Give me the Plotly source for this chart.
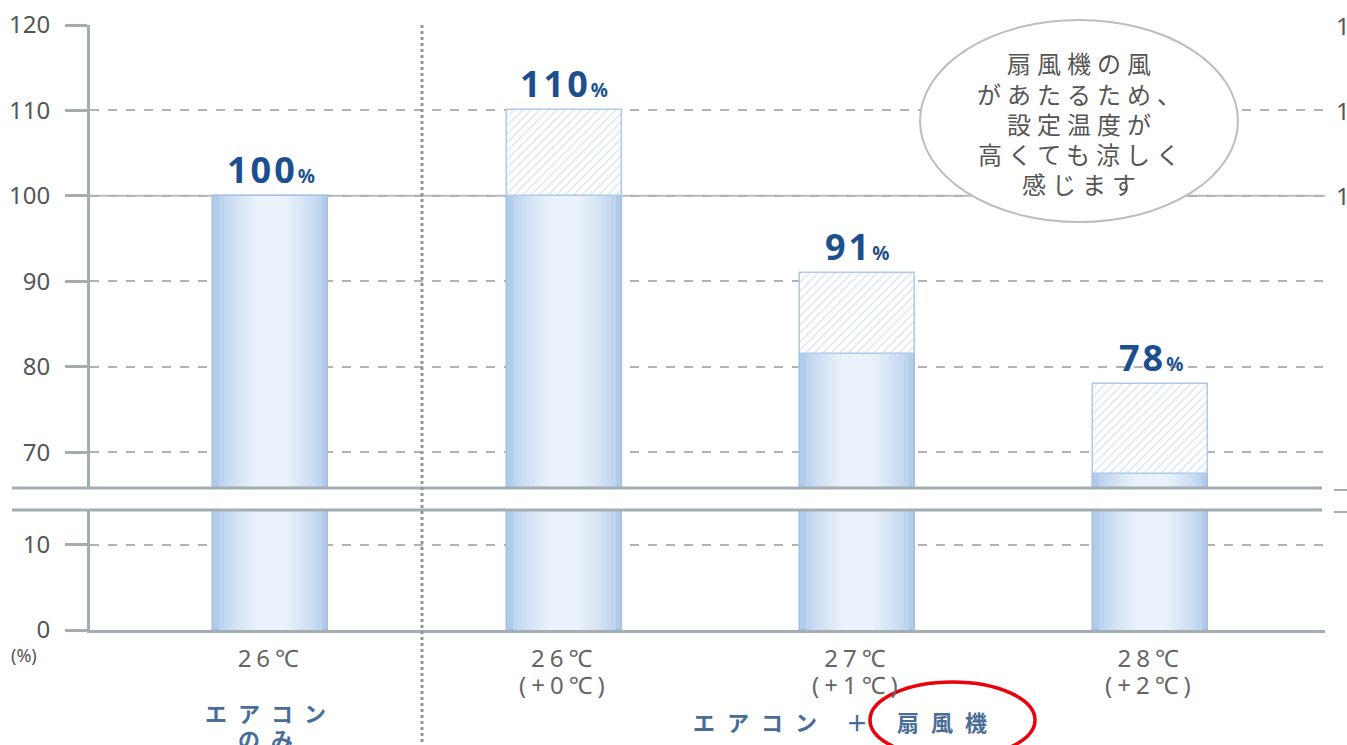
import plotly.graph_objects as go

# ---- data -------------------------------------------------------------
temps = ["26℃", "26℃", "27℃", "28℃"]
offsets = ["", "(+0℃)", "(+1℃)", "(+2℃)"]
solid_share = [100, 100, 81.5, 67.4]   # filled part of each bar (%)
total_share = [100, 110, 91, 78]       # labelled total (%)
upper_ticks = [70, 80, 90, 100, 110, 120]
lower_ticks = [0, 10]
bubble_lines = ["扇風機の風", "があたるため、", "設定温度が", "高くても涼しく", "感じます"]
group_single = ["エアコン", "のみ"]
group_combo = "エアコン ＋ 扇風機"

# ---- layout geometry (pixels) ----------------------------------------
W, H = 1347, 745
ML, MR, MT, MB = 90, 22, 25, 115
PW, PH = W - ML - MR, H - MT - MB
UPPER_RANGE = [65.8, 120]
LOWER_RANGE = [0, 14.1]
BREAK_TOP, BREAK_BOT = 488, 510          # pixel rows of the axis break


def px_x(p):
    return (p - ML) / PW


def px_y(p):
    return (H - MB - p) / PH


def blend(c1, c2, t):
    a = [int(c1[i:i + 2], 16) for i in (1, 3, 5)]
    b = [int(c2[i:i + 2], 16) for i in (1, 3, 5)]
    return "#" + "".join(f"{round(u + (v - u) * t):02x}" for u, v in zip(a, b))


AXIS_COL = "#a3aeb2"
GRID_COL = "#b3b3b3"
TXT_COL = "#555555"
BLUE_TXT = "#1c4f8d"
GROUP_COL = "#4a6d96"
BAR_W = 0.392
RIM, CORE = "#b1cbeb", "#eaf2fb"

xs = list(range(len(temps)))
fig = go.Figure()

# gradient-filled solid bars: stacked layers fading from rim to core
N_LAYERS = 12
layers = []
for k in range(N_LAYERS):
    t = k / (N_LAYERS - 1)
    frac = 1.0 - 0.72 * t ** 0.8
    layers.append((frac, blend(RIM, CORE, t ** 0.6)))
for ax in ("y", "y2"):
    for i, (frac, col) in enumerate(layers):
        fig.add_trace(go.Bar(
            x=xs, y=solid_share, yaxis=ax, width=BAR_W * frac,
            marker=dict(color=col,
                        line=dict(color="#a3c0e4" if i == 0 else col,
                                  width=1.5 if i == 0 else 0)),
            hoverinfo="skip", showlegend=False))

# hatched increments on top of the solid part
extra = [t - s if t > s else None for t, s in zip(total_share, solid_share)]
fig.add_trace(go.Bar(
    x=xs, y=extra, base=solid_share, yaxis="y", width=BAR_W,
    marker=dict(color="white",
                line=dict(color="#b0c9e8", width=1.5),
                pattern=dict(shape="/", fgcolor="#b3cbe9", bgcolor="white",
                             size=6, solidity=0.25)),
    hoverinfo="skip", showlegend=False))

axis_font = dict(family="Noto Sans", size=24, color=TXT_COL)
fig.update_layout(
    width=W, height=H, autosize=False,
    margin=dict(l=ML, r=MR, t=MT, b=MB, autoexpand=False),
    paper_bgcolor="white", plot_bgcolor="white",
    barmode="overlay", bargap=0,
    xaxis=dict(range=[-0.6164, 3.594], anchor="y2", automargin=False,
               tickvals=xs,
               ticktext=[f"<span style='letter-spacing:5px'>{t}</span>" for t in temps],
               tickfont=dict(family="Noto Sans", size=24, color="#666"),
               ticks="", ticklabelstandoff=5,
               showline=True, linecolor=AXIS_COL, linewidth=3,
               showgrid=False, zeroline=False, fixedrange=True),
    yaxis=dict(domain=[px_y(BREAK_TOP), 1], range=UPPER_RANGE, anchor="x",
               automargin=False,
               tickvals=upper_ticks, tickfont=axis_font,
               ticks="outside", ticklen=22, tickwidth=3, tickcolor=AXIS_COL,
               ticklabelstandoff=10,
               showline=True, linecolor=AXIS_COL, linewidth=3,
               showgrid=True, gridcolor=GRID_COL, gridwidth=1.5, griddash="dash",
               zeroline=False, fixedrange=True),
    yaxis2=dict(domain=[0, px_y(BREAK_BOT)], range=LOWER_RANGE, anchor="x",
                automargin=False,
                tickvals=lower_ticks, tickfont=axis_font,
                ticks="outside", ticklen=22, tickwidth=3, tickcolor=AXIS_COL,
                ticklabelstandoff=10,
                showline=True, linecolor=AXIS_COL, linewidth=3,
                showgrid=True, gridcolor=GRID_COL, gridwidth=1.5, griddash="dash",
                zeroline=False, fixedrange=True),
)

shapes = []
# solid 100 % reference line
shapes.append(dict(type="line", xref="paper", yref="y", x0=0, x1=1, y0=100, y1=100,
                   line=dict(color="#b9bdbf", width=2), layer="between"))
# axis break lines
for p in (BREAK_TOP, BREAK_BOT):
    shapes.append(dict(type="line", xref="paper", yref="paper",
                       x0=px_x(12), x1=px_x(1322), y0=px_y(p), y1=px_y(p),
                       line=dict(color=AXIS_COL, width=3), layer="above"))
# dotted separator between the two groups
shapes.append(dict(type="line", xref="paper", yref="paper",
                   x0=px_x(422), x1=px_x(422), y0=px_y(25), y1=px_y(745),
                   line=dict(color="#8e9699", width=3, dash="dot"), layer="above"))
# speech bubble
shapes.append(dict(type="circle", xref="paper", yref="paper",
                   x0=px_x(920), x1=px_x(1238), y0=px_y(222), y1=px_y(20),
                   fillcolor="white", line=dict(color="#bdbdbd", width=2),
                   layer="above"))
# red highlight ring
shapes.append(dict(type="circle", xref="paper", yref="paper",
                   x0=px_x(870), x1=px_x(1035), y0=px_y(758), y1=px_y(682),
                   line=dict(color="#e8000b", width=3.5), layer="above"))
# cut-off break ticks of the neighbouring chart
for p in (490, 512):
    shapes.append(dict(type="line", xref="paper", yref="paper",
                       x0=px_x(1334), x1=px_x(1347), y0=px_y(p), y1=px_y(p),
                       line=dict(color=AXIS_COL, width=2), layer="above"))
fig.update_layout(shapes=shapes)

ann = []


def label(x, y, text, font, xref="paper", yref="paper", **kw):
    d = dict(x=x, y=y, xref=xref, yref=yref, text=text, font=font,
             showarrow=False, xanchor="center", yanchor="middle")
    d.update(kw)
    ann.append(d)


# value labels above each bar
for x, v in zip(xs, total_share):
    label(x, v,
          (f"<span style='letter-spacing:3px'><b>{v}</b></span>"
           f"<span style='font-size:19px'><b>%</b></span>"),
          dict(family="Noto Sans", size=36, color=BLUE_TXT),
          xref="x", yref="y", yanchor="bottom", yshift=0)
# second line of the x labels
for x, o in zip(xs, offsets):
    if o:
        label(x, px_y(684), f"<span style='letter-spacing:5px'>{o}</span>",
              dict(family="Noto Sans", size=24, color="#666"), xref="x")
# group captions
for txt, p in zip(group_single, (712, 738)):
    label(0, px_y(p), f"<span style='letter-spacing:11px'><b>{txt}</b></span>",
          dict(family="Noto Sans CJK JP", size=22, color=GROUP_COL), xref="x")
label(px_x(846), px_y(721),
      f"<span style='letter-spacing:12px'><b>{group_combo}</b></span>",
      dict(family="Noto Sans CJK JP", size=22, color=GROUP_COL))
# bubble text
for k, line in enumerate(bubble_lines):
    label(px_x(1082), px_y(63 + 30 * k),
          f"<span style='letter-spacing:6px'>{line}</span>",
          dict(family="Noto Sans CJK JP", size=24, color="#555"))
# percent unit under the axis
label(px_x(24), px_y(655), "(%)", dict(family="Noto Sans", size=18, color=TXT_COL))
# cut-off labels of the neighbouring chart
for v in (120, 110, 100):
    label(px_x(1334), v, str(v), dict(family="Noto Sans", size=24, color=TXT_COL),
          yref="y", xanchor="left")
fig.update_layout(annotations=ann)

fig.write_html("out.html")
